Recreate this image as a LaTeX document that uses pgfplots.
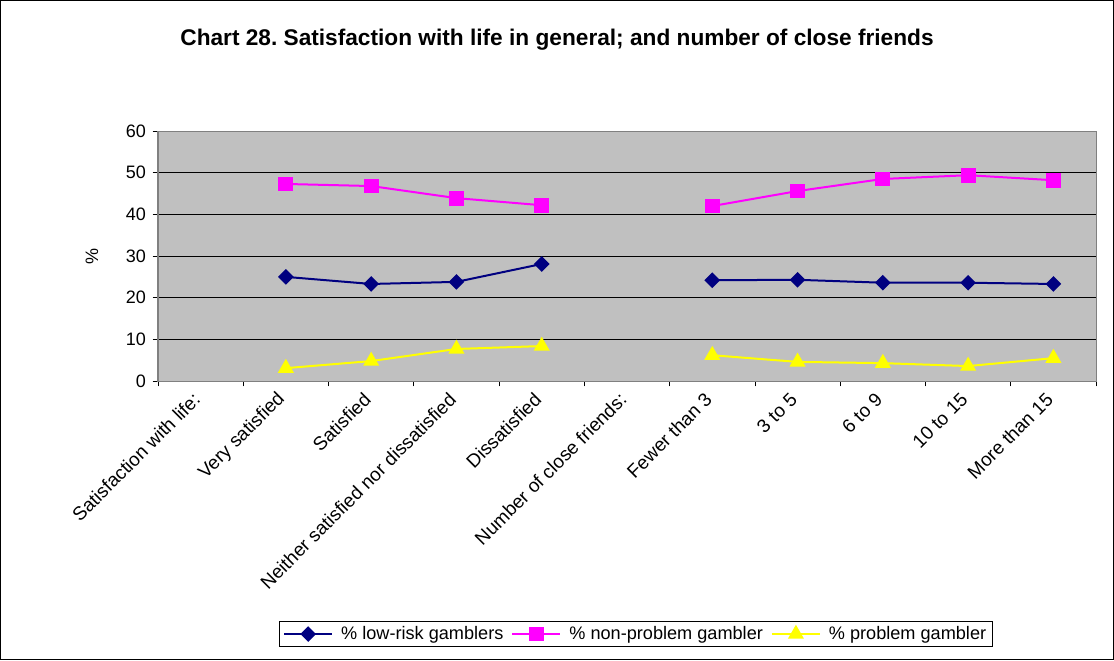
\documentclass[border=0pt]{standalone}
\usepackage{pgfplots}
\pgfplotsset{compat=1.18}
\usepackage{fontspec}
\setmainfont{Liberation Sans}
\frenchspacing

\definecolor{navyline}{HTML}{000080}
\definecolor{magline}{HTML}{FF00FF}
\definecolor{yelline}{HTML}{FFFF00}
\definecolor{plotbg}{HTML}{C0C0C0}
\definecolor{axgray}{HTML}{808080}

\begin{document}
\begin{tikzpicture}
\begin{axis}[
    at={(0pt,0pt)}, anchor=south west,
    scale only axis,
    width=703.5pt, height=187.5pt,
    axis background/.style={fill=plotbg},
    axis line style={draw=axgray, line width=0.8pt},
    xmin=-0.5, xmax=10.5,
    ymin=0, ymax=60,
    ytick={0,10,...,60},
    ymajorgrids,
    grid style={black, line width=0.6pt},
    tick align=outside,
    xtick pos=lower, ytick pos=left,
    major tick length=4pt,
    tick style={black, line width=0.6pt},
    xtick={-0.5,0.5,...,10.5},
    xticklabels={},
    extra x ticks={0,1,...,10},
    extra x tick labels={Satisfaction with life:, Very satisfied, Satisfied,
        Neither satisfied nor dissatisfied, Dissatisfied, Number of close friends:,
        Fewer than 3, 3 to 5, 6 to 9, 10 to 15, More than 15},
    extra x tick style={major tick length=0pt,
        xticklabel style={rotate=45, anchor=east, inner sep=1pt, yshift=-6pt, xshift=-9pt,
            font=\fontsize{14.2}{16}\selectfont}},
    ticklabel style={font=\fontsize{13.5}{15}\selectfont},
    yticklabel style={xshift=-1.5pt},
    /pgf/number format/assume math mode=true,
    ylabel={\%},
    every axis y label/.style={at={(axis description cs:-0.0704,0.5)}, anchor=center, rotate=90,
        font=\fontsize{13.5}{15}\selectfont},
    legend columns=3,
    legend style={at={(axis description cs:0.5096,-1.012)}, anchor=center,
        draw=black, line width=0.8pt, fill=white,
        font=\fontsize{13.6}{15}\selectfont,
        /tikz/every odd column/.append style={column sep=4pt},
        /tikz/every even column/.append style={column sep=4pt},
        inner ysep=1.5pt},
    legend image code/.code={
        \draw[#1, mark repeat=2, mark phase=2] plot coordinates {(0pt,0pt) (18pt,0pt) (36pt,0pt)};
    },
]
\addplot[navyline, line width=1.5pt, mark=square*, mark size=3.4pt,
    mark options={rotate=45, solid, fill=navyline}] coordinates {
    (1,25.0) (2,23.3) (3,23.8) (4,28.1)
};
\addlegendentry{\% low-risk gamblers}
\addplot[magline, line width=1.5pt, mark=square*, mark size=4.8pt,
    mark options={solid, fill=magline}] coordinates {
    (1,47.3) (2,46.8) (3,43.9) (4,42.2)
};
\addlegendentry{\% non-problem gambler}
\addplot[yelline, line width=1.5pt, mark=triangle*, mark size=5.5pt,
    mark options={solid, fill=yelline}] coordinates {
    (1,3.1) (2,4.8) (3,7.7) (4,8.4)
};
\addlegendentry{\% problem gambler}
\addplot[navyline, line width=1.5pt, mark=square*, mark size=3.4pt,
    mark options={rotate=45, solid, fill=navyline}, forget plot] coordinates {
    (6,24.2) (7,24.3) (8,23.6) (9,23.6) (10,23.3)
};
\addplot[magline, line width=1.5pt, mark=square*, mark size=4.8pt,
    mark options={solid, fill=magline}, forget plot] coordinates {
    (6,42.0) (7,45.6) (8,48.5) (9,49.4) (10,48.2)
};
\addplot[yelline, line width=1.5pt, mark=triangle*, mark size=5.5pt,
    mark options={solid, fill=yelline}, forget plot] coordinates {
    (6,6.2) (7,4.6) (8,4.3) (9,3.6) (10,5.5)
};
\end{axis}
\node[font=\bfseries\fontsize{17}{19}\selectfont] at (299.25pt,255.75pt)
    {Chart 28. Satisfaction with life in general; and number of close friends};
\draw[black, line width=0.75pt] (-118.1pt,-208.9pt) rectangle (716.6pt,285.4pt);
\end{tikzpicture}
\end{document}
